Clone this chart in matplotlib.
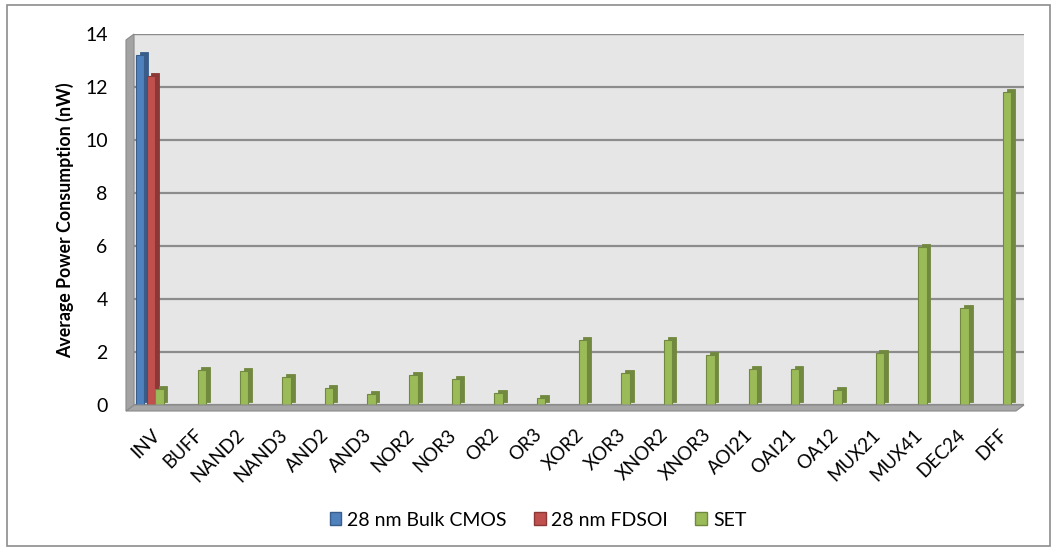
import matplotlib.pyplot as plt
import matplotlib.patches as mpatches
import numpy as np

plt.rcParams['font.family'] = ['Lato', 'DejaVu Sans']

cells = ["INV", "BUFF", "NAND2", "NAND3", "AND2", "AND3", "NOR2", "NOR3", "OR2", "OR3",
         "XOR2", "XOR3", "XNOR2", "XNOR3", "AOI21", "OAI21", "OA12", "MUX21", "MUX41",
         "DEC24", "DFF"]
bulk_cmos = [13.2]     # only INV
fdsoi = [12.4]         # only INV
set_power = [0.62, 1.32, 1.3, 1.07, 0.63, 0.4, 1.12, 0.97, 0.44, 0.28,
             2.45, 1.2, 2.45, 1.88, 1.37, 1.36, 0.56, 1.95, 5.95, 3.65, 11.8]

W, H = 1052, 550
fig = plt.figure(figsize=(W / 100, H / 100), dpi=100)

# pixel helpers (y measured from top)
def fx(px):
    return px / W
def fy(py):
    return 1 - py / H

ax_l, ax_r, ax_t, ax_b = 134, 1024, 34, 405
ax = fig.add_axes([fx(ax_l), fy(ax_b), fx(ax_r) - fx(ax_l), fy(ax_t) - fy(ax_b)])
ax.set_facecolor("#e6e6e6")
for s in ax.spines.values():
    s.set_visible(False)

x = np.arange(len(cells))
w = 0.2       # front face width
dx = 0.09     # depth shift (x)
dy = 0.11     # depth shift (y)

series = [
    (x[:1] - 0.26, bulk_cmos, "#4f81bd", "#385d8a", "28 nm Bulk CMOS"),
    (x[:1] + 0.0, fdsoi, "#c0504d", "#8c3836", "28 nm FDSOI"),
    (x + 0.2, set_power, "#9bbb59", "#71893f", "SET"),
]
z = 3
for pos, vals, col, dark, lab in series:
    vals = np.array(vals)
    ax.bar(pos + dx, vals, width=w, bottom=dy, color=dark, edgecolor=dark,
           linewidth=0.6, zorder=z)
    ax.bar(pos, vals, width=w, color=col, edgecolor=dark, linewidth=0.8,
           zorder=z + 1, label=lab)
    z += 2

ax.set_xlim(-0.4, len(cells) - 0.4)
ax.set_ylim(0, 14)
ax.set_yticks(np.arange(0, 15, 2))
ax.yaxis.grid(True, color="#8c8c8c", linewidth=1.6, zorder=1)
ax.set_axisbelow(True)
ax.axhline(14, color="#8c8c8c", linewidth=1.6, zorder=1)

ax.set_xticks(x)
ax.set_xticklabels(cells, rotation=45, ha="right", rotation_mode="anchor")
ax.tick_params(axis="x", length=0, pad=15, labelsize=13.5, colors="black")
ax.tick_params(axis="y", length=0, pad=19, labelsize=14, colors="black")

# 3D side wall and floor
wall = mpatches.Polygon([(fx(126), fy(40)), (fx(134), fy(34)), (fx(134), fy(405)), (fx(126), fy(411))],
                        closed=True, transform=fig.transFigure, facecolor="#a3a3a3",
                        edgecolor="#8a8a8a", linewidth=0.8, zorder=5)
floor = mpatches.Polygon([(fx(126), fy(411)), (fx(134), fy(405)), (fx(1024), fy(405)), (fx(1016), fy(411))],
                         closed=True, transform=fig.transFigure, facecolor="#a6a6a6",
                         edgecolor="#8a8a8a", linewidth=0.8, zorder=1)
fig.patches.extend([floor, wall])

fig.text(fx(65), fy(220), "Average Power Consumption (nW)", rotation=90,
         ha="center", va="center", fontsize=12.8, fontweight="bold")

# chart border
fig.patches.append(mpatches.Rectangle((fx(7), fy(546)), fx(1050) - fx(7), fy(5) - fy(546),
                                      transform=fig.transFigure, fill=False,
                                      edgecolor="#8c8c8c", linewidth=1.2))

handles = [mpatches.Patch(facecolor=c, edgecolor=d, label=l) for _, _, c, d, l in series]
fig.legend(handles=handles, loc="center", bbox_to_anchor=(fx(538), fy(520)), ncol=3,
           frameon=False, fontsize=14, handlelength=0.6, handleheight=0.6,
           handletextpad=0.3, columnspacing=1.4)

fig.savefig("out.png", dpi=100)
